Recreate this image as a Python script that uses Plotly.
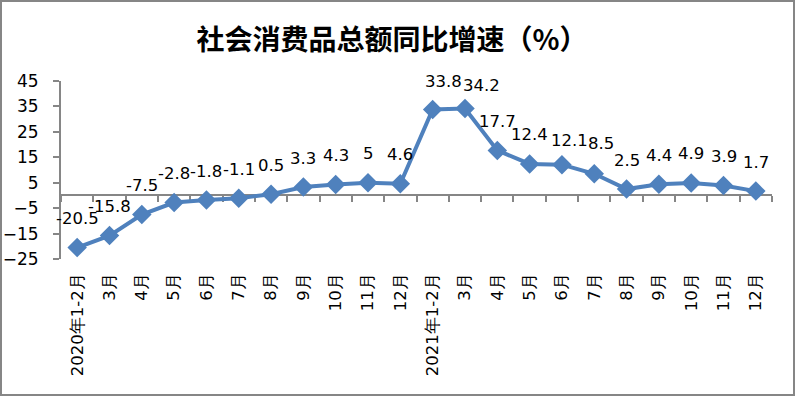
import plotly.graph_objects as go

title_text = "社会消费品总额同比增速（%）"
month_labels = ["2020年1-2月", "3月", "4月", "5月", "6月", "7月", "8月", "9月", "10月", "11月", "12月",
                "2021年1-2月", "3月", "4月", "5月", "6月", "7月", "8月", "9月", "10月", "11月", "12月"]
growth = [-20.5, -15.8, -7.5, -2.8, -1.8, -1.1, 0.5, 3.3, 4.3, 5, 4.6,
          33.8, 34.2, 17.7, 12.4, 12.1, 8.5, 2.5, 4.4, 4.9, 3.9, 1.7]
label_text = ["%g" % v for v in growth]

# label placement style (pixel offsets), default above each point; a few nudged as in the source
DEFAULT_SHIFT = (0, 28)
label_nudge = {11: (11, 27), 12: (17, 22), 15: (8, 23), 16: (7, 29)}

W, H = 796, 398
ML, MR, MT, MB = 61, 24, 81, 139
PW, PH = W - ML - MR, H - MT - MB
Y_MIN, Y_MAX = -25, 45
n = len(growth)
x_idx = list(range(n))

blue = "#4F81BD"
gray = "#868686"
font_family = "DejaVu Sans"
fsize = 16.5

fig = go.Figure()
# helper trace to activate the zero-line axis with boundary ticks
fig.add_trace(go.Scatter(x=x_idx, y=growth, xaxis="x2", mode="lines",
                         line=dict(width=0, color="rgba(0,0,0,0)"),
                         hoverinfo="skip", showlegend=False))
fig.add_trace(go.Scatter(
    x=x_idx, y=growth, mode="lines+markers",
    line=dict(color=blue, width=4),
    marker=dict(symbol="diamond", size=15, color=blue),
    cliponaxis=False, showlegend=False,
))

annotations = []
for i, (xi, v, t) in enumerate(zip(x_idx, growth, label_text)):
    dx, dy = label_nudge.get(i, DEFAULT_SHIFT)
    annotations.append(dict(x=xi, y=v, xref="x", yref="y", text=t, showarrow=False,
                            xshift=dx, yshift=dy + 1, xanchor="center", yanchor="middle",
                            font=dict(family=font_family, size=fsize, color="#000000")))

fig.update_layout(
    width=W, height=H,
    margin=dict(l=ML, r=MR, t=MT, b=MB, pad=0, autoexpand=False),
    paper_bgcolor="white", plot_bgcolor="white",
    showlegend=False,
    annotations=annotations,
    title=dict(text=title_text, x=392 / W, xanchor="center", y=1 - 40 / H, yanchor="middle",
               font=dict(family="Noto Sans CJK SC", size=28, color="#000000", weight="bold")),
    xaxis=dict(range=[-0.5, n - 0.5], tickmode="array", tickvals=x_idx, ticktext=month_labels,
               tickangle=-90, showline=False, showgrid=False, zeroline=False, ticks="",
               ticklabelstandoff=10, automargin=False,
               tickfont=dict(family=font_family, size=fsize, color="#000000"), fixedrange=True),
    xaxis2=dict(overlaying="x", anchor="free", position=(0 - Y_MIN) / (Y_MAX - Y_MIN),
                range=[-0.5, n - 0.5], tickmode="linear", tick0=-0.5, dtick=1,
                showticklabels=False, showline=True, linecolor=gray, linewidth=2,
                ticks="outside", ticklen=6, tickwidth=2, tickcolor=gray, automargin=False,
                showgrid=False, zeroline=False, layer="below traces"),
    yaxis=dict(range=[Y_MIN, Y_MAX], tickmode="linear", tick0=Y_MIN, dtick=10,
               showline=True, linecolor=gray, linewidth=2, ticks="outside", ticklen=6,
               tickwidth=2, tickcolor=gray, showgrid=False, zeroline=False,
               ticklabelstandoff=11, automargin=False,
               tickfont=dict(family=font_family, size=17, color="#000000")),
    shapes=[dict(type="rect", xref="paper", yref="paper",
                 x0=-(ML - 1) / PW, x1=1 + (MR - 2) / PW,
                 y0=-(MB - 3) / PH, y1=1 + (MT - 1) / PH,
                 line=dict(color=gray, width=2), fillcolor="rgba(0,0,0,0)", layer="below")],
)

fig.write_html("out.html", config={"displayModeBar": False},
               post_script="document.body.style.margin='0';document.body.style.overflow='hidden';")
